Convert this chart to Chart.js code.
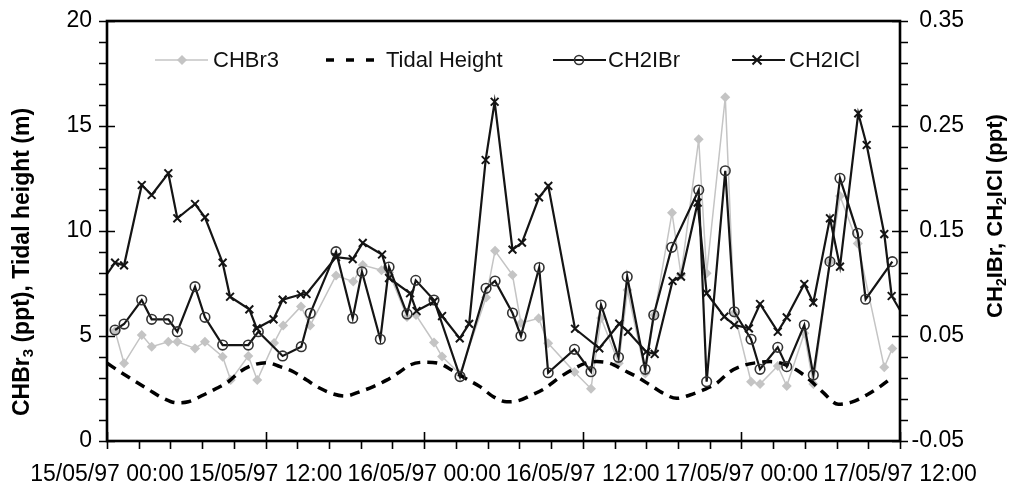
<!DOCTYPE html>
<html>
<head>
<meta charset="utf-8">
<script src="https://cdn.jsdelivr.net/npm/chart.js@4.4.1/dist/chart.umd.min.js"></script>
<style>
  html, body { margin: 0; padding: 0; background: #fff; }
  #box { width: 1009px; height: 485px; }
</style>
</head>
<body>
<div id="box"><canvas id="grafico"></canvas></div>
<script>
// hours since 15/05/97 00:00
const xTickLabels = ['15/05/97 00:00', '15/05/97 12:00', '16/05/97 00:00', '16/05/97 12:00', '17/05/97 00:00', '17/05/97 12:00'];
const seriesNames = ['CHBr3', 'Tidal Height', 'CH2IBr', 'CH2ICl'];

const chbr3Hours = [0.61, 1.29, 2.63, 3.38, 4.64, 5.32, 6.66, 7.41, 8.75, 9.36, 10.69, 11.37, 12.64, 13.33, 14.68, 15.37, 17.33, 18.63, 19.35, 20.77, 21.34, 22.70, 23.38, 24.74, 25.35, 26.71, 28.68, 29.36, 30.68, 31.32, 32.66, 33.38, 35.37, 36.62, 37.38, 38.72, 39.38, 40.73, 41.41, 42.75, 43.43, 44.77, 45.37, 46.78, 47.46, 48.73, 49.41, 50.75, 51.43, 52.76, 53.44, 54.70, 55.46, 56.80, 58.81, 59.42];
const chbr3Values = [5.24, 3.70, 5.05, 4.49, 4.73, 4.73, 4.41, 4.73, 4.01, 2.90, 4.05, 2.90, 4.67, 5.50, 6.41, 5.50, 7.88, 7.59, 8.38, 8.13, 8.02, 5.90, 6.00, 4.69, 4.02, 3.19, 6.83, 9.06, 7.90, 5.62, 5.84, 4.65, 3.29, 2.49, 5.86, 3.70, 7.19, 3.22, 6.00, 10.87, 7.90, 14.37, 7.99, 16.37, 6.10, 2.82, 2.71, 3.57, 2.62, 5.13, 2.71, 8.54, 11.67, 9.41, 3.51, 4.41];

const tideHours = [0.02, 0.98, 1.99, 3.12, 4.26, 5.27, 6.15, 7.29, 8.30, 9.18, 10.06, 11.07, 12.08, 13.09, 14.10, 15.11, 16.12, 17.12, 18.01, 19.14, 20.15, 21.16, 22.17, 22.93, 23.93, 25.07, 26.08, 27.09, 28.22, 29.23, 30.24, 31.12, 32.13, 33.14, 34.15, 35.16, 36.17, 37.05, 38.06, 39.06, 40.08, 41.08, 42.09, 43.10, 44.11, 45.12, 46.13, 47.14, 48.27, 49.16, 50.17, 51.15, 52.18, 53.19, 54.20, 55.33, 56.34, 57.48, 58.49, 59.49];
const tideValues = [3.70, 3.30, 2.90, 2.46, 2.03, 1.82, 1.87, 2.19, 2.51, 2.82, 3.30, 3.62, 3.73, 3.54, 3.30, 2.90, 2.51, 2.24, 2.14, 2.35, 2.59, 2.90, 3.30, 3.62, 3.75, 3.70, 3.38, 2.99, 2.59, 2.11, 1.87, 1.92, 2.19, 2.51, 2.99, 3.38, 3.70, 3.78, 3.70, 3.38, 3.06, 2.67, 2.27, 2.03, 2.19, 2.43, 2.75, 3.30, 3.62, 3.73, 3.78, 3.68, 3.38, 2.90, 2.30, 1.75, 1.85, 2.19, 2.59, 3.06];

const ch2ibrHours = [0.61, 1.29, 2.63, 3.38, 4.64, 5.32, 6.66, 7.41, 8.75, 10.69, 11.45, 13.29, 14.70, 15.38, 17.33, 18.59, 19.29, 20.68, 21.34, 22.70, 23.36, 24.74, 26.71, 28.68, 29.36, 30.68, 31.32, 32.70, 33.38, 35.37, 36.62, 37.38, 38.70, 39.36, 40.72, 41.37, 42.73, 44.77, 45.37, 46.78, 47.46, 48.73, 49.41, 50.75, 51.43, 52.76, 53.44, 54.70, 55.46, 56.80, 57.40, 59.42];
const ch2ibrValues = [0.0557, 0.0614, 0.0843, 0.0659, 0.0659, 0.0541, 0.0970, 0.0678, 0.0414, 0.0414, 0.0541, 0.0310, 0.0398, 0.0716, 0.1303, 0.0669, 0.1112, 0.0469, 0.1157, 0.0710, 0.1030, 0.0843, 0.0114, 0.0954, 0.1024, 0.0719, 0.0500, 0.1152, 0.0150, 0.0373, 0.0160, 0.0795, 0.0297, 0.1065, 0.0183, 0.0700, 0.1345, 0.1890, 0.0065, 0.2074, 0.0731, 0.0469, 0.0183, 0.0392, 0.0208, 0.0605, 0.0129, 0.1208, 0.2002, 0.1478, 0.0850, 0.1208];

// first and last samples sit just outside the plotted window
const ch2iclHours = [-0.5, 0.61, 1.29, 2.63, 3.38, 4.64, 5.32, 6.66, 7.41, 8.75, 9.31, 10.77, 11.33, 12.60, 13.29, 14.66, 15.09, 17.33, 18.59, 19.35, 20.81, 21.34, 22.93, 23.42, 24.72, 25.35, 26.69, 27.40, 28.65, 29.33, 30.68, 31.40, 32.69, 33.39, 35.41, 37.25, 38.76, 39.42, 40.80, 41.44, 42.79, 43.43, 44.69, 45.37, 46.71, 47.46, 48.57, 49.41, 50.75, 51.43, 52.76, 53.44, 54.70, 55.46, 56.84, 57.48, 58.81, 59.37, 60.4];
const ch2iclValues = [0.1000, 0.1198, 0.1173, 0.1938, 0.1843, 0.2050, 0.1621, 0.1757, 0.1630, 0.1198, 0.0874, 0.0754, 0.0573, 0.0659, 0.0846, 0.0895, 0.0900, 0.1252, 0.1233, 0.1386, 0.1276, 0.1052, 0.0907, 0.0738, 0.0827, 0.0690, 0.0478, 0.0616, 0.2176, 0.2731, 0.1322, 0.1389, 0.1821, 0.1929, 0.0569, 0.0383, 0.0617, 0.0541, 0.0350, 0.0329, 0.1024, 0.1065, 0.1770, 0.0907, 0.0684, 0.0605, 0.0573, 0.0805, 0.0541, 0.0678, 0.0995, 0.0817, 0.1621, 0.1160, 0.2621, 0.2319, 0.1471, 0.0881, 0.0660];

const FONT = "'Liberation Sans', Arial, sans-serif";
const GRAY = '#c4c4c4';
const INK = '#141414';

function pares(xs, ys) {
  return xs.map((x, i) => ({ x: x, y: ys[i] }));
}

function desenharMarcador(ctx, tipo, x, y) {
  ctx.save();
  if (tipo === 'diamond') {
    ctx.fillStyle = GRAY;
    ctx.beginPath();
    ctx.moveTo(x, y - 5); ctx.lineTo(x + 5, y); ctx.lineTo(x, y + 5); ctx.lineTo(x - 5, y);
    ctx.closePath();
    ctx.fill();
  } else if (tipo === 'circle') {
    ctx.strokeStyle = '#333';
    ctx.lineWidth = 1.6;
    ctx.beginPath();
    ctx.arc(x, y, 4.5, 0, Math.PI * 2);
    ctx.stroke();
  } else if (tipo === 'cross') {
    ctx.strokeStyle = INK;
    ctx.lineWidth = 2;
    ctx.beginPath();
    ctx.moveTo(x - 4.5, y - 4.5); ctx.lineTo(x + 4.5, y + 4.5);
    ctx.moveTo(x + 4.5, y - 4.5); ctx.lineTo(x - 4.5, y + 4.5);
    ctx.stroke();
  }
  ctx.restore();
}

// frame + major/minor tick marks
const marcasEixos = {
  id: 'marcasEixos',
  afterDatasetsDraw(chart) {
    const { ctx, chartArea: a, scales } = chart;
    ctx.save();
    ctx.strokeStyle = '#000';
    ctx.lineWidth = 1.6;
    ctx.beginPath();
    for (let i = 0; i <= 25; i++) {
      const px = Math.round(scales.x.getPixelForValue(i * 2.4)) + 0.5;
      const maior = i % 5 === 0;
      ctx.moveTo(px, a.bottom + 8);
      ctx.lineTo(px, maior ? a.bottom - 9 : a.bottom);
    }
    for (let i = 0; i <= 20; i++) {
      const py = Math.round(scales.y.getPixelForValue(i)) + 0.5;
      const maior = i % 5 === 0;
      ctx.moveTo(a.left - 8, py);
      ctx.lineTo(maior ? a.left + 8 : a.left, py);
    }
    for (let i = 0; i <= 20; i++) {
      const py = Math.round(scales.y2.getPixelForValue(-0.05 + i * 0.02)) + 0.5;
      const maior = i % 5 === 0;
      ctx.moveTo(a.right + 8, py);
      ctx.lineTo(maior ? a.right - 8 : a.right, py);
    }
    ctx.stroke();
    ctx.lineWidth = 2.6;
    ctx.strokeRect(a.left, a.top, a.right - a.left, a.bottom - a.top);
    ctx.restore();
  }
};

// legend inside the plot area
const legendaInterna = {
  id: 'legendaInterna',
  afterDraw(chart) {
    const ctx = chart.ctx;
    const y = 60;
    const itens = [
      { x0: 155, x1: 208, mx: 182, tx: 213, cor: GRAY, lw: 1.5, dash: [], mk: 'diamond' },
      { x0: 326, x1: 376, mx: null, tx: 386, cor: '#000', lw: 3.5, dash: [8, 12], mk: null },
      { x0: 553, x1: 606, mx: 579, tx: 608, cor: INK, lw: 2, dash: [], mk: 'circle' },
      { x0: 732, x1: 785, mx: 757, tx: 789, cor: INK, lw: 2, dash: [], mk: 'cross' }
    ];
    ctx.save();
    itens.forEach((it, i) => {
      ctx.strokeStyle = it.cor;
      ctx.lineWidth = it.lw;
      ctx.setLineDash(it.dash);
      ctx.beginPath();
      ctx.moveTo(it.x0, y);
      ctx.lineTo(it.x1, y);
      ctx.stroke();
      ctx.setLineDash([]);
      if (it.mk) desenharMarcador(ctx, it.mk, it.mx, y);
      ctx.fillStyle = '#111';
      ctx.font = '22px ' + FONT;
      ctx.textBaseline = 'middle';
      ctx.textAlign = 'left';
      ctx.fillText(seriesNames[i], it.tx, y + 1);
    });
    ctx.restore();
  }
};

// rotated axis titles with subscripts
function tituloVertical(ctx, partes, cx, cy, tam) {
  const fonteN = 'bold ' + tam + 'px ' + FONT;
  const fonteS = 'bold ' + Math.round(tam * 0.64) + 'px ' + FONT;
  let total = 0;
  partes.forEach(p => {
    ctx.font = p.sub ? fonteS : fonteN;
    p.w = ctx.measureText(p.t).width;
    total += p.w;
  });
  ctx.save();
  ctx.translate(cx, cy);
  ctx.rotate(-Math.PI / 2);
  ctx.fillStyle = '#000';
  ctx.textBaseline = 'alphabetic';
  ctx.textAlign = 'left';
  let x = -total / 2;
  partes.forEach(p => {
    ctx.font = p.sub ? fonteS : fonteN;
    ctx.fillText(p.t, x, p.sub ? 12 : 8);
    x += p.w;
  });
  ctx.restore();
}

const titulosEixos = {
  id: 'titulosEixos',
  afterDraw(chart) {
    const ctx = chart.ctx;
    tituloVertical(ctx, [{ t: 'CHBr' }, { t: '3', sub: true }, { t: ' (ppt), Tidal height (m)' }], 21, 262, 23);
    tituloVertical(ctx, [{ t: 'CH' }, { t: '2', sub: true }, { t: 'IBr, CH' }, { t: '2', sub: true }, { t: 'ICl (ppt)' }], 994, 216, 22);
  }
};

const ctx = document.getElementById('grafico').getContext('2d');
new Chart(ctx, {
  type: 'line',
  data: {
    datasets: [
      {
        label: seriesNames[0],
        data: pares(chbr3Hours, chbr3Values),
        yAxisID: 'y',
        borderColor: GRAY,
        borderWidth: 1.5,
        pointStyle: 'rectRot',
        pointRadius: 5,
        pointBackgroundColor: GRAY,
        pointBorderColor: GRAY,
        pointBorderWidth: 0,
        order: 4
      },
      {
        label: seriesNames[1],
        data: pares(tideHours, tideValues),
        yAxisID: 'y',
        borderColor: '#000',
        borderWidth: 3.5,
        borderDash: [10, 7],
        pointRadius: 0,
        cubicInterpolationMode: 'monotone',
        order: 3
      },
      {
        label: seriesNames[2],
        data: pares(ch2ibrHours, ch2ibrValues),
        yAxisID: 'y2',
        borderColor: INK,
        borderWidth: 2.2,
        pointStyle: 'circle',
        pointRadius: 4.8,
        pointBackgroundColor: 'rgba(255,255,255,0)',
        pointBorderColor: '#333',
        pointBorderWidth: 1.6,
        order: 2
      },
      {
        label: seriesNames[3],
        data: pares(ch2iclHours, ch2iclValues),
        yAxisID: 'y2',
        borderColor: INK,
        borderWidth: 2.2,
        pointStyle: 'crossRot',
        pointRadius: 5.5,
        pointBorderColor: INK,
        pointBorderWidth: 2,
        order: 1
      }
    ]
  },
  options: {
    responsive: true,
    maintainAspectRatio: false,
    animation: false,
    devicePixelRatio: 1,
    layout: { padding: { top: 21, left: 0, right: 45, bottom: 0 } },
    plugins: {
      legend: { display: false },
      tooltip: { enabled: false }
    },
    scales: {
      x: {
        type: 'linear',
        min: 0,
        max: 60,
        grid: { display: false },
        border: { display: false },
        afterFit: s => { s.height = 44; },
        ticks: {
          stepSize: 12,
          autoSkip: false,
          maxRotation: 0,
          padding: 12,
          color: '#000',
          font: { family: FONT, size: 23 },
          callback: v => xTickLabels[Math.round(v / 12)]
        }
      },
      y: {
        position: 'left',
        min: 0,
        max: 20,
        grid: { display: false },
        border: { display: false },
        afterFit: s => { s.width = 107; },
        ticks: {
          stepSize: 5,
          padding: 7,
          color: '#000',
          font: { family: FONT, size: 23 }
        }
      },
      y2: {
        position: 'right',
        min: -0.05,
        max: 0.35,
        grid: { display: false },
        border: { display: false },
        afterFit: s => { s.width = 64; },
        ticks: {
          stepSize: 0.1,
          crossAlign: 'far',
          color: '#000',
          font: { family: FONT, size: 23 },
          callback: v => v.toFixed(2)
        }
      }
    }
  },
  plugins: [marcasEixos, legendaInterna, titulosEixos]
});
</script>
</body>
</html>
